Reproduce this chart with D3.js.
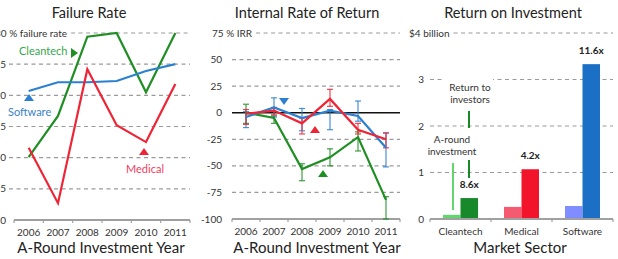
<!DOCTYPE html>
<html><head><meta charset="utf-8">
<script src="https://cdn.jsdelivr.net/npm/d3@7"></script>
<style>
html,body{margin:0;padding:0;background:#fff;overflow:hidden}
svg{display:block;font-family:Lato,"Open Sans",sans-serif}
</style></head>
<body>
<svg id="c" width="618" height="259"></svg>
<script>
// ---------- data ----------
const years = ["2006","2007","2008","2009","2010","2011"];
const failTicks = [0,5,10,15,20,25,30];
const failCleantech = [10.1,16.7,29.4,30.0,20.5,30.0];
const failSoftware  = [20.7,22.1,22.1,22.3,23.9,25.0];
const failMedical   = [11.6,2.7,24.2,15.2,12.5,21.8];

const irrTicks = [-100,-75,-50,-25,0,25,50,75];
const irrCleantech = [0,-5,-53,-42,-23,-82];
const irrCleantechLo = [-10,-10,-64,-50,-36,-100];
const irrCleantechHi = [8,-3,-48,-34,-18,-79];
const irrSoftware = [-4,5,-5,2,-3,-33];
const irrSoftwareLo = [-14,-4,-17,-16,-8,-51];
const irrSoftwareHi = [1,14,4,3,11,-19];
const irrMedical = [-1,2,-10,13,-16,-25];
const irrMedicalLo = [-11,-2,-20,6,-20,-33];
const irrMedicalHi = [3,5,-5,22,-10,-19];

const sectors = ["Cleantech","Medical","Software"];
const roiTicks = [0,1,2,3,4];
const roiInvest = [0.09,0.26,0.28];
const roiReturn = [0.45,1.07,3.33];
const roiMultiple = ["8.6x","4.2x","11.6x"];

// ---------- styles ----------
const C = {green:"#1f8f24", blue:"#2b80cf", red:"#ee2536",
  gLab:"#35a84a", bLab:"#3a82c8", rLab:"#ef4060",
  gLight:"#62d56e", gDark:"#17892a", rLight:"#f45a70", rDark:"#f2142b",
  bLight:"#7f8dff", bDark:"#1b70c6", grid:"#9a9a9a", axis:"#a0a0a0", text:"#333"};

const svg = d3.select("#c");

// labelEnd: right edge of ordinary tick labels; topStart: left edge of top (unit) label
function gridAndLabels(g, y, ticks, topLabel, labelEnd, topStart, x0, x1){
  ticks.forEach((t,i)=>{
    const top = i===ticks.length-1;
    const txt = g.append("text").attr("y",y(t)+3.5)
      .attr("font-size",10).attr("fill",C.text)
      .text(top? topLabel : String(t));
    let start = x0;
    if(top){
      txt.attr("x",topStart).attr("text-anchor","start");
      start = topStart + txt.node().getComputedTextLength() + 4;
    } else {
      txt.attr("x",labelEnd).attr("text-anchor","end");
    }
    if(t===y.domain()[0]) return; // bottom: axis line
    g.append("line").attr("x1",start).attr("x2",x1).attr("y1",y(t)).attr("y2",y(t))
      .attr("stroke",C.grid).attr("stroke-width",1.2).attr("stroke-dasharray","4,3.5");
  });
}

function xAxis(g, x, yPos){
  const [a,b] = x.range();
  g.append("line").attr("x1",a).attr("x2",b).attr("y1",yPos).attr("y2",yPos)
    .attr("stroke",C.axis).attr("stroke-width",2);
  const bounds = [a].concat(x.domain().map(d=>x(d)+x.bandwidth()));
  bounds.forEach(bx=>{
    g.append("line").attr("x1",bx).attr("x2",bx).attr("y1",yPos).attr("y2",yPos+3)
      .attr("stroke",C.axis).attr("stroke-width",1.2);
  });
  x.domain().forEach(d=>{
    g.append("text").attr("x",x(d)+x.bandwidth()/2).attr("y",yPos+16)
      .attr("text-anchor","middle").attr("font-size",10).attr("fill",C.text).text(d);
  });
}

function title(g, cx, txt){
  g.append("text").attr("x",cx).attr("y",18).attr("text-anchor","middle")
    .attr("font-size",14.5).attr("fill","#222").text(txt);
}
function axTitle(g, cx, txt){
  g.append("text").attr("x",cx).attr("y",253).attr("text-anchor","middle")
    .attr("font-size",15).attr("fill","#222").text(txt);
}
function tri(g, cx, cy, dir, color){
  const s=5;
  let pts;
  if(dir==="up") pts=[[cx-s,cy+3],[cx+s,cy+3],[cx,cy-4]];
  else if(dir==="down") pts=[[cx-s,cy-3],[cx+s,cy-3],[cx,cy+4]];
  else pts=[[cx-3,cy-s],[cx-3,cy+s],[cx+4,cy]];
  g.append("polygon").attr("points",pts.map(p=>p.join(",")).join(" ")).attr("fill",color);
}

// ---------- Panel 1: Failure Rate ----------
{
  const g = svg.append("g");
  const x = d3.scaleBand().domain(years).range([14,190]);
  const y = d3.scaleLinear().domain([0,30]).range([220,33]);
  gridAndLabels(g, y, failTicks, "30 % failure rate", 6, -5, 9, 190);
  xAxis(g, x, 220);
  const line = d3.line().x((d,i)=>x(years[i])+x.bandwidth()/2).y(d=>y(d));
  [[failCleantech,C.green],[failSoftware,C.blue],[failMedical,C.red]].forEach(([s,c])=>{
    g.append("path").attr("d",line(s)).attr("fill","none").attr("stroke",c).attr("stroke-width",2.2);
  });
  g.append("text").attr("x",19).attr("y",55).attr("font-size",11).attr("fill",C.gLab).text("Cleantech");
  tri(g,74,53,"right",C.green);
  g.append("text").attr("x",8).attr("y",116).attr("font-size",11).attr("fill",C.bLab).text("Software");
  tri(g,29,98,"up",C.blue);
  g.append("text").attr("x",145).attr("y",173).attr("text-anchor","middle").attr("font-size",11).attr("fill",C.rLab).text("Medical");
  tri(g,144,152,"up",C.red);
  title(g, 89, "Failure Rate");
  axTitle(g, 101, "A-Round Investment Year");
}

// ---------- Panel 2: IRR ----------
{
  const g = svg.append("g");
  const x = d3.scaleBand().domain(years).range([232,400]);
  const y = d3.scaleLinear().domain([-100,75]).range([219,33]);
  gridAndLabels(g, y, irrTicks.filter(t=>t!==0), "75 % IRR", 222, 212, 232, 400);
  g.append("text").attr("x",222).attr("y",y(0)+3.5).attr("text-anchor","end")
    .attr("font-size",10).attr("fill",C.text).text("0");
  g.append("line").attr("x1",232).attr("x2",400).attr("y1",y(0)).attr("y2",y(0))
    .attr("stroke","#111").attr("stroke-width",1.6);
  xAxis(g, x, 219);
  const cx = i=>x(years[i])+x.bandwidth()/2;
  const line = d3.line().x((d,i)=>cx(i)).y(d=>y(d));
  const series = [
    [irrCleantech,irrCleantechLo,irrCleantechHi,C.green],
    [irrSoftware,irrSoftwareLo,irrSoftwareHi,C.blue],
    [irrMedical,irrMedicalLo,irrMedicalHi,C.red]];
  series.forEach(([v,lo,hi,c])=>{
    v.forEach((d,i)=>{
      const xx=cx(i);
      g.append("line").attr("x1",xx).attr("x2",xx).attr("y1",y(lo[i])).attr("y2",y(hi[i]))
        .attr("stroke",c).attr("stroke-width",1.2).attr("opacity",0.85);
      [lo[i],hi[i]].forEach(e=>g.append("line").attr("x1",xx-3).attr("x2",xx+3)
        .attr("y1",y(e)).attr("y2",y(e)).attr("stroke",c).attr("stroke-width",1.2).attr("opacity",0.85));
    });
  });
  series.forEach(([v,lo,hi,c])=>{
    g.append("path").attr("d",line(v)).attr("fill","none").attr("stroke",c).attr("stroke-width",2.2);
  });
  tri(g,284,101,"down",C.blue);
  tri(g,315,130,"up",C.red);
  tri(g,323,174,"up",C.green);
  title(g, 307, "Internal Rate of Return");
  axTitle(g, 317, "A-Round Investment Year");
}

// ---------- Panel 3: ROI ----------
{
  const g = svg.append("g");
  const x = d3.scaleBand().domain(sectors).range([430,613]);
  const y = d3.scaleLinear().domain([0,4]).range([219,33]);
  gridAndLabels(g, y, roiTicks, "$4 billion", 424, 409, 430, 613);
  // white box behind annotation (breaks the 3 gridline)
  g.append("rect").attr("x",443).attr("y",74).attr("width",50).attr("height",32).attr("fill","#fff");
  const light=[C.gLight,C.rLight,C.bLight], dark=[C.gDark,C.rDark,C.bDark];
  const bw = 17.5;
  sectors.forEach((s,i)=>{
    const c = x(s)+x.bandwidth()/2;
    g.append("rect").attr("x",c-bw).attr("width",bw).attr("y",y(roiInvest[i])).attr("height",y(0)-y(roiInvest[i])).attr("fill",light[i]);
    g.append("rect").attr("x",c).attr("width",bw).attr("y",y(roiReturn[i])).attr("height",y(0)-y(roiReturn[i])).attr("fill",dark[i]);
    g.append("text").attr("x",c+bw/2).attr("y",y(roiReturn[i])-10).attr("text-anchor","middle")
      .attr("font-size",10).attr("font-weight","bold").attr("fill","#222").text(roiMultiple[i]);
  });
  xAxis(g, x, 219);
  // annotations
  g.append("text").attr("x",470).attr("y",91).attr("text-anchor","middle").attr("font-size",10).attr("fill",C.text).text("Return to");
  g.append("text").attr("x",470).attr("y",103).attr("text-anchor","middle").attr("font-size",10).attr("fill",C.text).text("investors");
  g.append("text").attr("x",452).attr("y",143).attr("text-anchor","middle").attr("font-size",10).attr("fill",C.text).text("A-round");
  g.append("text").attr("x",452).attr("y",155).attr("text-anchor","middle").attr("font-size",10).attr("fill",C.text).text("investment");
  g.append("line").attr("x1",469).attr("x2",469).attr("y1",111).attr("y2",128).attr("stroke",C.gDark).attr("stroke-width",2);
  g.append("line").attr("x1",469).attr("x2",469).attr("y1",160).attr("y2",178).attr("stroke",C.gDark).attr("stroke-width",2);
  g.append("line").attr("x1",453).attr("x2",453).attr("y1",163).attr("y2",210).attr("stroke",C.gLight).attr("stroke-width",2);
  title(g, 513, "Return on Investment");
  axTitle(g, 520, "Market Sector");
}
</script>
</body></html>
